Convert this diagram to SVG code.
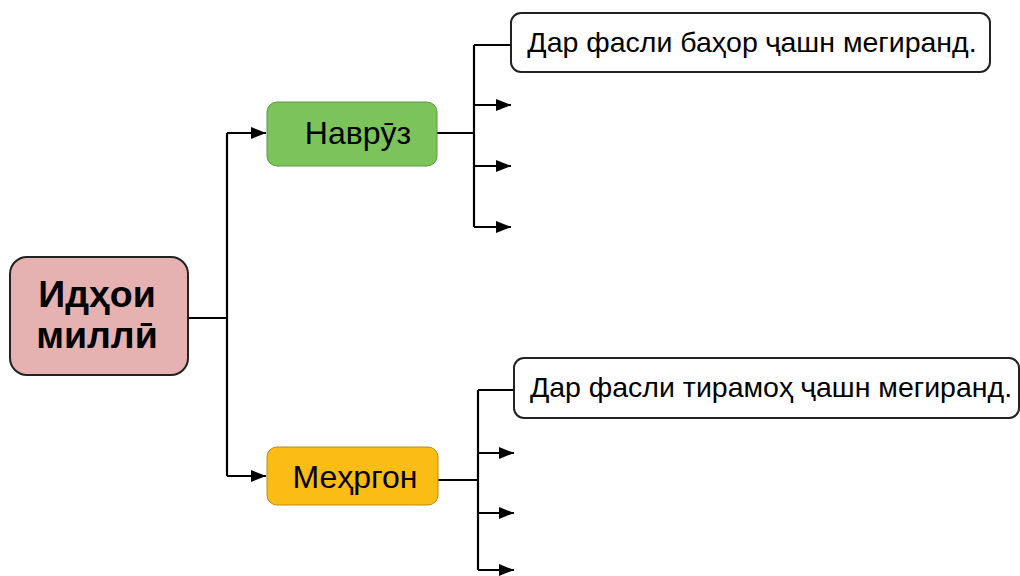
<svg xmlns="http://www.w3.org/2000/svg" width="1020" height="576" viewBox="0 0 1020 576">
<defs>
<marker id="ah" markerWidth="15" markerHeight="12" refX="15" refY="6" orient="auto" markerUnits="userSpaceOnUse">
<path d="M0,0 L15,6 L0,12 Z" fill="#000"/>
</marker>
<style>
.c{fill:none;stroke:#000;stroke-width:2.2}
.t{font-family:"Liberation Sans",Arial,sans-serif;fill:#000;text-anchor:middle}
.box{stroke:#222;stroke-width:2}
</style>
</defs>
<rect width="1020" height="576" fill="#fff"/>
<g id="connectors">
<path class="c" d="M188,318 H227 M227,133 V476"/>
<path class="c" d="M227,133 H266" marker-end="url(#ah)"/>
<path class="c" d="M227,476 H266" marker-end="url(#ah)"/>
<path class="c" d="M437,133 H474 M474,45 V227 M474,45 H511"/>
<path class="c" d="M474,105 H511" marker-end="url(#ah)"/>
<path class="c" d="M474,166 H511" marker-end="url(#ah)"/>
<path class="c" d="M474,227 H511" marker-end="url(#ah)"/>
<path class="c" d="M438,480 H478 M478,390 V570 M478,390 H514"/>
<path class="c" d="M478,453 H514" marker-end="url(#ah)"/>
<path class="c" d="M478,513 H514" marker-end="url(#ah)"/>
<path class="c" d="M478,570 H514" marker-end="url(#ah)"/>
</g>
<g id="root">
<rect class="box" x="10" y="257" width="178" height="118" rx="17" fill="#e6b1b1"/>
<text class="t" x="97" y="307" font-size="37.5" font-weight="bold">Идҳои</text>
<text class="t" x="97" y="348" font-size="37.5" font-weight="bold">миллӣ</text>
</g>
<g id="navruz">
<rect x="267" y="102" width="170" height="64" rx="10" fill="#7cc35a" stroke="#5a9a3e" stroke-width="1"/>
<text class="t" x="358" y="144" font-size="32">Наврӯз</text>
</g>
<g id="mehrgon">
<rect x="267" y="447" width="171" height="58" rx="10" fill="#fbbc14" stroke="#b88a10" stroke-width="1"/>
<text class="t" x="355" y="488" font-size="32">Меҳргон</text>
</g>
<g id="bahor">
<rect class="box" x="511" y="13" width="479" height="59" rx="10" fill="#fff"/>
<text class="t" x="752" y="52" font-size="28.5">Дар фасли баҳор ҷашн мегиранд.</text>
</g>
<g id="tiramoh">
<rect class="box" x="514" y="358" width="505" height="60" rx="10" fill="#fff"/>
<text class="t" x="771" y="397" font-size="28.5">Дар фасли тирамоҳ ҷашн мегиранд.</text>
</g>
</svg>
